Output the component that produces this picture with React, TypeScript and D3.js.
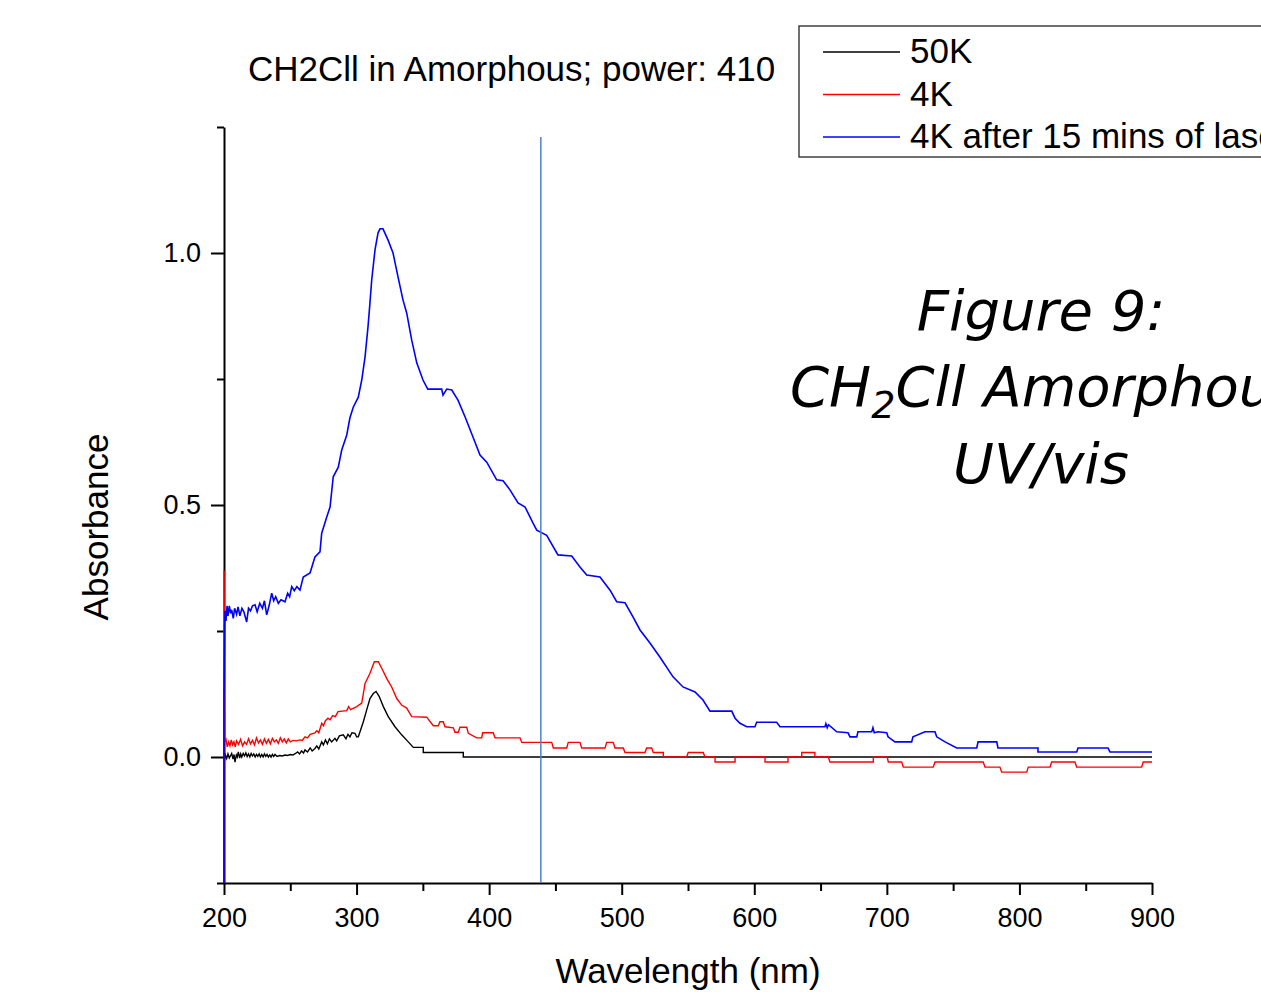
import React, { useEffect, useRef } from "react";
import * as d3 from "d3";

const WIDTH = 1261;
const HEIGHT = 992;
const PLOT = { LEFT: 224, RIGHT: 1152, TOP: 127, BOTTOM: 883 };

const xMajorTicks = [200, 300, 400, 500, 600, 700, 800, 900];
const xMinorTicks = [250, 350, 450, 550, 650, 750, 850];
const yMajorTicks = [0, 0.5, 1.0];
const yMinorTicks = [-0.25, 0.25, 0.75, 1.25];

const seriesNames = ["50K", "4K", "4K after 15 mins of laser"];
const seriesColors = ["#000000", "#ff0000", "#0000ff"];
const markerWavelength = 439;

// [wavelength (nm), absorbance]
const data50K: [number, number][] = [
  [200.3, -0.005], [201.0, 0.004], [202.0, -0.003], [203.0, 0.006], [204.0, -0.002],
  [205.0, 0.003], [205.8, 0.007], [206.8, -0.004], [207.6, 0.005], [208.3, -0.01],
  [209.3, 0.004], [210.0, 0.0], [210.8, 0.01], [211.8, -0.002], [212.6, 0.006],
  [213.4, 0.0], [214.5, 0.007], [215.5, 0.002], [216.5, 0.008], [217.5, 0.001],
  [218.5, 0.006], [219.5, 0.0], [220.5, 0.007], [221.5, 0.002], [222.5, 0.006],
  [223.5, 0.0], [224.5, 0.005], [225.5, 0.001], [226.5, 0.006], [227.5, 0.0],
  [228.5, 0.005], [229.5, 0.0], [230.5, 0.006], [231.5, 0.001], [232.5, 0.005],
  [233.5, 0.0], [234.5, 0.004], [235.5, 0.0], [236.5, 0.005], [237.5, 0.001],
  [238.5, 0.005], [240.0, 0.001], [242.0, 0.003], [244.0, 0.002], [246.0, 0.004],
  [248.0, 0.003], [250.0, 0.005], [252.0, 0.004], [254.0, 0.007], [255.5, 0.01],
  [257.0, 0.006], [258.5, 0.012], [260.0, 0.008], [261.1, 0.014], [263.0, 0.01],
  [265.0, 0.018], [266.5, 0.012], [268.6, 0.017], [270.0, 0.022], [271.5, 0.016],
  [273.7, 0.03], [275.0, 0.024], [276.5, 0.034], [278.0, 0.026], [279.5, 0.036],
  [281.2, 0.03], [283.7, 0.037], [285.0, 0.032], [287.0, 0.042], [290.0, 0.044],
  [292.0, 0.036], [293.5, 0.045], [295.0, 0.04], [296.5, 0.048], [298.8, 0.047],
  [300.0, 0.04], [301.3, 0.04], [302.6, 0.05], [305.1, 0.07], [307.6, 0.093],
  [310.1, 0.116], [312.6, 0.126], [314.7, 0.13], [317.1, 0.12], [320.2, 0.1],
  [323.9, 0.08], [329.0, 0.06], [334.0, 0.044], [339.0, 0.03], [342.8, 0.019],
  [350.3, 0.019], [350.3, 0.009], [380.5, 0.009], [380.5, 0.0], [900, 0.0],
];

const data4K: [number, number][] = [
  [200, -0.3], [200.1, 0.37], [200.6, 0.03],
  [201.5, 0.035], [202.5, 0.02], [203.5, 0.03], [204.5, 0.022], [205.5, 0.034],
  [206.5, 0.024], [207.5, 0.03], [208.5, 0.02], [209.5, 0.032], [211.0, 0.025],
  [212.5, 0.035], [214.0, 0.022], [215.5, 0.03], [217.0, 0.025], [218.5, 0.036],
  [220.0, 0.026], [221.5, 0.033], [223.0, 0.024], [224.5, 0.038], [226.0, 0.028],
  [227.5, 0.034], [229.0, 0.025], [230.5, 0.036], [232.0, 0.027], [233.5, 0.035],
  [235.0, 0.026], [236.5, 0.037], [238.0, 0.03], [239.5, 0.034], [241.0, 0.027],
  [242.5, 0.038], [244.0, 0.03], [245.5, 0.036], [247.0, 0.028], [248.5, 0.036],
  [250.0, 0.03], [252.0, 0.033], [254.5, 0.032], [257.3, 0.034], [259.0, 0.033],
  [261.1, 0.04], [263.0, 0.038], [265.0, 0.045], [268.6, 0.048], [270.0, 0.052],
  [271.5, 0.048], [273.7, 0.067], [275.0, 0.062], [276.5, 0.072], [278.4, 0.077],
  [280.0, 0.074], [282.0, 0.082], [284.0, 0.08], [286.0, 0.09], [292.6, 0.092],
  [294.0, 0.1], [295.5, 0.094], [300.1, 0.1], [303.9, 0.107], [306.4, 0.146],
  [310.1, 0.166], [313.4, 0.189], [316.4, 0.189], [319.0, 0.176], [322.7, 0.156],
  [326.5, 0.139], [330.3, 0.116], [334.0, 0.103], [337.8, 0.097], [341.6, 0.08],
  [352.9, 0.079], [357.9, 0.062], [361.6, 0.062], [362.9, 0.07], [365.4, 0.07],
  [366.7, 0.06], [373.0, 0.058], [374.2, 0.049], [376.7, 0.049], [378.0, 0.059],
  [383.1, 0.059], [384.3, 0.047], [390.6, 0.038], [394.4, 0.038], [395.1, 0.048],
  [403.1, 0.048], [404.4, 0.038], [423.3, 0.038], [424.6, 0.029], [447.2, 0.029],
  [448.4, 0.018], [458.5, 0.018], [459.7, 0.029], [468.5, 0.029], [469.8, 0.018],
  [487.4, 0.018], [488.7, 0.029], [493.6, 0.029], [494.9, 0.018], [501.2, 0.018],
  [502.5, 0.009], [517.6, 0.009], [518.8, 0.018], [522.6, 0.018], [523.8, 0.009],
  [531.4, 0.009], [531.4, 0.0], [549.0, 0.0], [550.2, 0.009], [561.5, 0.009],
  [562.8, 0.0], [570.4, 0.0], [570.4, -0.01], [585.5, -0.01], [585.5, 0.0],
  [608.1, 0.0], [608.1, -0.01], [625.4, -0.01], [625.4, 0.0], [635.8, 0.0],
  [635.8, 0.009], [645.7, 0.009], [645.7, 0.0], [655.8, 0.0], [657.1, -0.01],
  [689.8, -0.01], [689.8, 0.0], [700.3, 0.0], [701.1, -0.01], [711.2, -0.01],
  [712.4, -0.02], [735.0, -0.02], [736.3, -0.01], [772.7, -0.01], [774.0, -0.02],
  [785.3, -0.02], [786.6, -0.03], [805.5, -0.03], [806.7, -0.02], [823.1, -0.02],
  [824.3, -0.01], [841.9, -0.01], [843.2, -0.02], [892.2, -0.02], [893.4, -0.01],
  [900, -0.01],
];

const data4KLaser: [number, number][] = [
  [200, -0.3], [200, 0.107], [200.5, 0.26], [200.8, 0.29], [201.5, 0.27],
  [202.3, 0.3], [203.0, 0.28], [204.0, 0.3], [205.0, 0.285], [205.8, 0.292],
  [207.0, 0.275], [208.0, 0.295], [209.5, 0.283], [210.6, 0.298], [212.0, 0.28],
  [213.5, 0.295], [215.0, 0.288], [217.1, 0.268], [218.5, 0.295], [220.0, 0.29],
  [221.5, 0.3], [223.4, 0.302], [225.0, 0.288], [227.0, 0.305], [229.0, 0.295],
  [230.5, 0.31], [232.2, 0.282], [234.0, 0.3], [236.0, 0.325], [237.5, 0.31],
  [239.0, 0.318], [241.0, 0.305], [243.0, 0.312], [246.0, 0.308], [248.0, 0.325],
  [249.5, 0.318], [251.1, 0.338], [253.0, 0.33], [255.0, 0.338], [257.3, 0.331],
  [259.8, 0.357], [264.9, 0.365], [268.6, 0.397], [272.4, 0.407], [273.7, 0.444],
  [277.5, 0.476], [280.0, 0.496], [282.4, 0.556], [286.2, 0.575], [288.8, 0.609],
  [292.6, 0.639], [295.0, 0.673], [297.5, 0.694], [301.3, 0.714], [303.9, 0.748],
  [306.4, 0.794], [308.6, 0.853], [310.1, 0.901], [311.4, 0.946], [313.9, 1.006],
  [316.2, 1.04], [317.7, 1.048], [319.9, 1.048], [323.7, 1.026], [327.5, 1.0],
  [331.3, 0.952], [335.0, 0.907], [337.8, 0.881], [341.6, 0.827], [345.4, 0.782],
  [350.1, 0.748], [353.7, 0.73], [364.2, 0.73], [365.2, 0.718], [368.0, 0.73],
  [371.8, 0.728], [376.5, 0.708], [381.8, 0.675], [387.8, 0.635], [393.1, 0.599],
  [398.2, 0.585], [405.7, 0.55], [410.5, 0.548], [415.7, 0.53], [421.8, 0.504],
  [427.1, 0.496], [433.1, 0.464], [435.9, 0.45], [443.4, 0.44], [451.9, 0.401],
  [462.3, 0.399], [468.5, 0.377], [473.6, 0.361], [483.6, 0.357], [491.2, 0.331],
  [496.2, 0.308], [502.5, 0.306], [508.5, 0.278], [513.8, 0.252], [521.3, 0.226],
  [528.9, 0.198], [538.7, 0.159], [546.2, 0.139], [555.3, 0.129], [561.3, 0.113],
  [566.6, 0.091], [583.0, 0.091], [585.5, 0.077], [589.2, 0.067], [594.3, 0.06],
  [600.5, 0.06], [601.8, 0.069], [616.9, 0.069], [619.4, 0.06], [653.3, 0.06],
  [654.0, 0.066], [655.0, 0.058], [656.0, 0.064], [662.2, 0.05], [670.7, 0.048],
  [672.2, 0.04], [677.3, 0.04], [678.2, 0.05], [688.6, 0.05], [689.5, 0.058],
  [690.5, 0.048], [693.3, 0.05], [699.9, 0.048], [700.9, 0.04], [706.1, 0.03],
  [718.7, 0.03], [719.7, 0.04], [728.8, 0.05], [736.3, 0.05], [737.6, 0.04],
  [743.9, 0.03], [752.7, 0.018], [767.8, 0.018], [768.8, 0.03], [782.9, 0.03],
  [783.8, 0.018], [814.0, 0.018], [814.0, 0.01], [843.2, 0.01], [844.2, 0.018],
  [866.8, 0.018], [868.3, 0.01], [900, 0.01],
];

const allSeries = [data50K, data4K, data4KLaser];

const FONT = "'Liberation Sans', Arial, sans-serif";

export default function App() {
  const ref = useRef<SVGSVGElement>(null);

  useEffect(() => {
    const svg = d3.select(ref.current);
    svg.selectAll("*").remove();

    const x = d3.scaleLinear().domain([200, 900]).range([PLOT.LEFT, PLOT.RIGHT]);
    const y = d3.scaleLinear().domain([-0.25, 1.25]).range([PLOT.BOTTOM, PLOT.TOP]);

    svg
      .append("defs")
      .append("clipPath")
      .attr("id", "plot-clip")
      .append("rect")
      .attr("x", PLOT.LEFT - 2)
      .attr("y", PLOT.TOP)
      .attr("width", PLOT.RIGHT - PLOT.LEFT + 4)
      .attr("height", PLOT.BOTTOM - PLOT.TOP);

    // x axis
    const xAxis = svg
      .append("g")
      .attr("transform", `translate(0, ${PLOT.BOTTOM})`)
      .call(
        d3.axisBottom(x).tickValues(xMajorTicks).tickSize(12).tickPadding(13)
          .tickSizeOuter(0).tickFormat(d3.format("d"))
      );
    svg
      .append("g")
      .attr("transform", `translate(0, ${PLOT.BOTTOM})`)
      .call(d3.axisBottom(x).tickValues(xMinorTicks).tickSize(8).tickFormat(() => ""))
      .call((g) => g.select(".domain").remove());

    // y axis
    const yAxis = svg
      .append("g")
      .attr("transform", `translate(${PLOT.LEFT}, 0)`)
      .call(
        d3.axisLeft(y).tickValues(yMajorTicks).tickSize(13).tickPadding(10)
          .tickSizeOuter(0).tickFormat(d3.format(".1f"))
      );
    svg
      .append("g")
      .attr("transform", `translate(${PLOT.LEFT}, 0)`)
      .call(d3.axisLeft(y).tickValues(yMinorTicks).tickSize(7).tickFormat(() => ""))
      .call((g) => g.select(".domain").remove());

    svg.selectAll(".domain, .tick line").attr("stroke", "#000").attr("stroke-width", 2);
    [xAxis, yAxis].forEach((g) =>
      g.selectAll("text").attr("font-family", FONT).attr("font-size", 27).attr("fill", "#000")
    );

    // series
    const line = d3.line<[number, number]>().x((d) => x(d[0])).y((d) => y(d[1]));
    const plot = svg.append("g").attr("clip-path", "url(#plot-clip)");
    allSeries.forEach((s, i) => {
      plot
        .append("path")
        .attr("d", line(s))
        .attr("fill", "none")
        .attr("stroke", seriesColors[i])
        .attr("stroke-width", i === 2 ? 1.6 : 1.4)
        .attr("stroke-linejoin", "miter");
    });

    // marker line
    svg
      .append("line")
      .attr("x1", x(markerWavelength))
      .attr("x2", x(markerWavelength))
      .attr("y1", y(1.23))
      .attr("y2", y(-0.25))
      .attr("stroke", "#4f7fcf")
      .attr("stroke-width", 1.5);

    // title
    svg
      .append("text")
      .attr("x", 248)
      .attr("y", 81)
      .attr("font-family", FONT)
      .attr("font-size", 35)
      .text("CH2Cll in Amorphous; power: 410");

    // axis labels
    svg
      .append("text")
      .attr("x", (PLOT.LEFT + PLOT.RIGHT) / 2)
      .attr("y", 983)
      .attr("text-anchor", "middle")
      .attr("font-family", FONT)
      .attr("font-size", 35)
      .text("Wavelength (nm)");

    svg
      .append("text")
      .attr("transform", `translate(108, ${y(0.5) + 22}) rotate(-90)`)
      .attr("text-anchor", "middle")
      .attr("font-family", FONT)
      .attr("font-size", 35)
      .text("Absorbance");

    // legend
    const legend = svg.append("g");
    legend
      .append("rect")
      .attr("x", 799)
      .attr("y", 26)
      .attr("width", 520)
      .attr("height", 131)
      .attr("fill", "#fff")
      .attr("stroke", "#333")
      .attr("stroke-width", 1.4);
    seriesNames.forEach((name, i) => {
      const cy = 52 + i * 42.5;
      legend
        .append("line")
        .attr("x1", 823)
        .attr("x2", 900)
        .attr("y1", cy)
        .attr("y2", cy)
        .attr("stroke", seriesColors[i])
        .attr("stroke-width", 1.4);
      legend
        .append("text")
        .attr("x", 910)
        .attr("y", cy + 11)
        .attr("font-family", FONT)
        .attr("font-size", 35)
        .text(name);
    });

    // figure caption
    const captionFont = "'DejaVu Sans', sans-serif";
    const caption = svg
      .append("g")
      .attr("font-family", captionFont)
      .attr("font-style", "italic")
      .attr("font-size", 56);
    caption.append("text").attr("x", 1041).attr("y", 330)
      .attr("text-anchor", "middle").text("Figure 9:");
    const line2 = caption.append("text").attr("x", 790).attr("y", 406);
    line2.append("tspan").text("CH");
    line2.append("tspan").attr("font-size", 38).attr("dy", 12).text("2");
    line2.append("tspan").attr("dy", -12).text("Cll Amorphous");
    caption.append("text").attr("x", 1041).attr("y", 483)
      .attr("text-anchor", "middle").text("UV/vis");
  }, []);

  return (
    <div style={{ position: "absolute", left: 0, top: 0, width: WIDTH, height: HEIGHT, background: "#fff" }}>
      <svg ref={ref} width={WIDTH} height={HEIGHT} style={{ display: "block" }} />
    </div>
  );
}
